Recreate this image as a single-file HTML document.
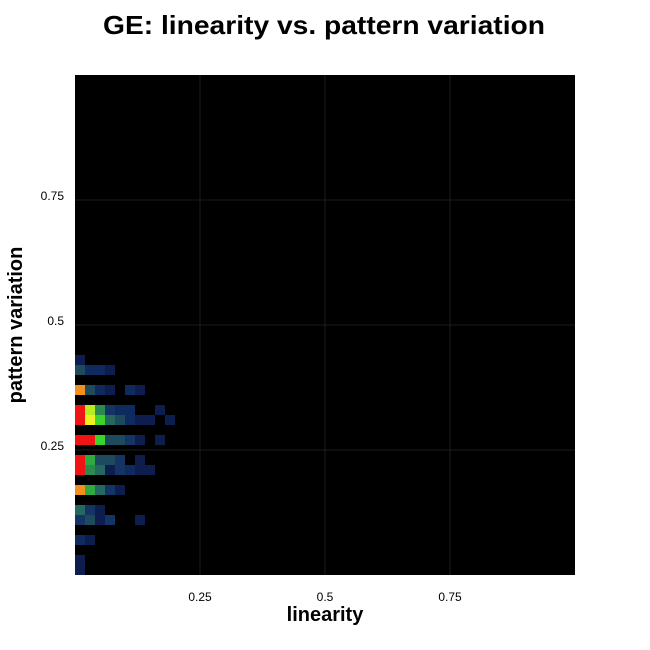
<!DOCTYPE html>
<html><head><meta charset="utf-8"><style>
body{margin:0;background:#fff;}
svg{display:block;font-family:"Liberation Sans",sans-serif;}
</style></head><body>
<svg id="chart" width="650" height="650">
<text x="324" y="34" text-anchor="middle" font-size="26" font-weight="bold" textLength="442" lengthAdjust="spacingAndGlyphs">GE: linearity vs. pattern variation</text>
<rect x="75" y="75" width="500" height="500" fill="#000"/>
<g id="grid"></g>
<g id="cells"></g>
<g id="ticks"></g>
<text x="325" y="621" text-anchor="middle" font-size="20" font-weight="bold">linearity</text>
<text transform="translate(22,325) rotate(-90)" text-anchor="middle" font-size="20" font-weight="bold">pattern variation</text>
</svg>
<script>
const ns="http://www.w3.org/2000/svg";
const binSize=0.02;
const tickValues=[0.25,0.5,0.75];
const tickLabels=["0.25","0.5","0.75"];
// row y-bin indices (from bottom) and per-column count levels
const rowBins=[0,1,3,5,6,8,10,11,13,15,16,18,20,21];
const rowValues=[
 [1],[1],[2,1],[3,4,1,3,0,0,1],[5,3,1],[11,7,5,3,1],[12,6,5,1,3,2,1,1],[12,7,4,4,3,0,1],
 [12,12,8,4,4,3,1,0,1],[12,10,8,5,4,2,1,1,0,1],[12,9,6,3,2,2,0,0,1],[11,4,2,1,0,2,1],[4,2,2,1],[1]
];
const palette=["#000","#0c1d4e","#0f2a5e","#143464","#1e4a5e","#246860","#2a8a50","#2eaa40","#3cd42a","#b8ec1e","#f0f020","#f2901c","#f01414"];
const X=v=>75+v*500, Y=v=>575-v*500;
const grid=document.getElementById('grid'), cells=document.getElementById('cells'), ticks=document.getElementById('ticks');
tickValues.forEach((t,i)=>{
 let l=document.createElementNS(ns,'line');
 l.setAttribute('x1',X(t));l.setAttribute('x2',X(t));l.setAttribute('y1',75);l.setAttribute('y2',575);
 l.setAttribute('stroke','#1c1c1c');
 
 
 grid.appendChild(l);
 let h=document.createElementNS(ns,'line');
 h.setAttribute('x1',75);h.setAttribute('x2',575);h.setAttribute('y1',Y(t));h.setAttribute('y2',Y(t));
 h.setAttribute('stroke','#1c1c1c');
 
 
 grid.appendChild(h);
 let tx=document.createElementNS(ns,'text');
 tx.setAttribute('x',X(t));tx.setAttribute('y',601);tx.setAttribute('text-anchor','middle');tx.setAttribute('font-size','12');
 tx.textContent=tickLabels[i];
 
 
 ticks.appendChild(tx);
 let ty=document.createElementNS(ns,'text');
 ty.setAttribute('x',64);ty.setAttribute('y',Y(t));ty.setAttribute('text-anchor','end');ty.setAttribute('font-size','12');
 ty.textContent=tickLabels[i];
 
 
 ticks.appendChild(ty);
});
rowBins.forEach((b,r)=>{
 rowValues[r].forEach((v,c)=>{
  if(!v)return;
  let re=document.createElementNS(ns,'rect');
  re.setAttribute('x',X(c*binSize));re.setAttribute('y',Y((b+1)*binSize));
  re.setAttribute('width',X(binSize)-X(0));re.setAttribute('height',Y(0)-Y(binSize));
  re.setAttribute('fill',palette[Math.min(v,12)]);
  
  
  cells.appendChild(re);
 });
});
</script>
</body></html>
